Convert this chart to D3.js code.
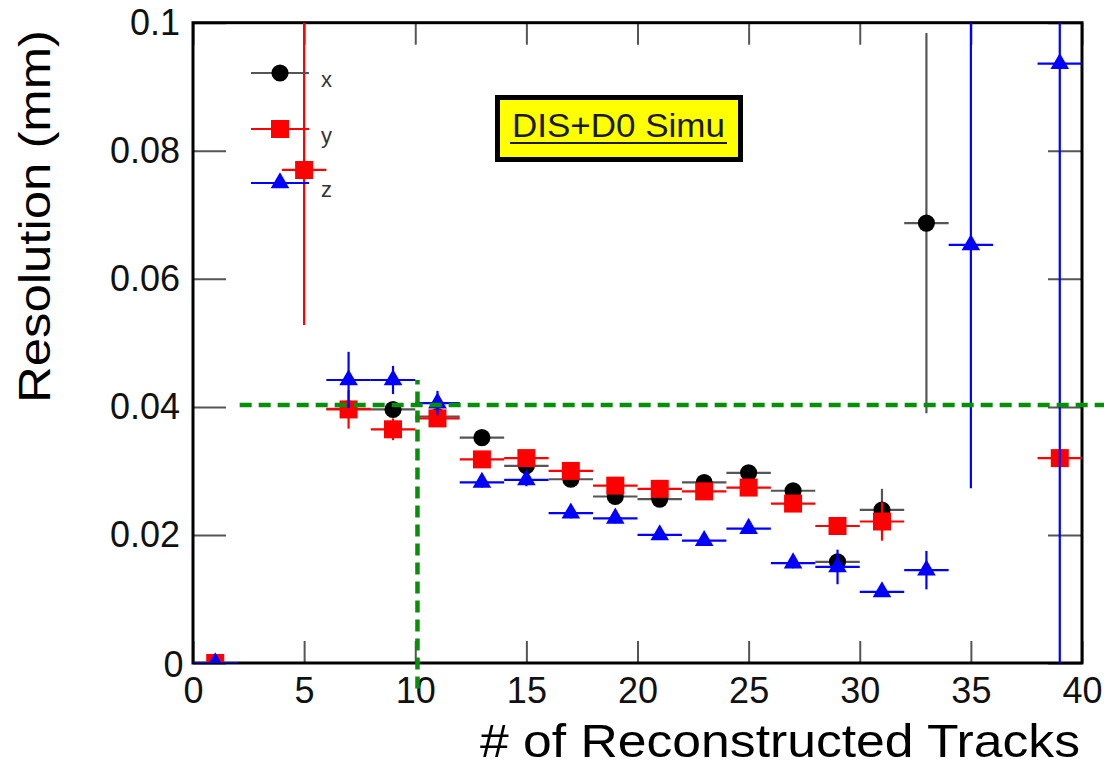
<!DOCTYPE html>
<html>
<head>
<meta charset="utf-8">
<script src="https://cdn.jsdelivr.net/npm/d3@7/dist/d3.min.js"></script>
<style>
  body { margin: 0; background: #fff; }
  svg { display: block; font-family: "Liberation Sans", Arial, Helvetica, sans-serif; }
</style>
</head>
<body>
<div id="chart"></div>
<script>
// values (bin centres, resolution in mm, +/- error)
const xBins = [1, 7, 9, 11, 13, 15, 17, 19, 21, 23, 25, 27, 29, 31, 33]
const xRes  = [0, 0.0397, 0.0396, 0.0385, 0.0352, 0.0308, 0.0287, 0.0260, 0.0256, 0.0282, 0.0297, 0.0269, 0.0158, 0.0239, 0.0687]
const xErr  = [0, 0.001, 0.001, 0.001, 0.0008, 0.0008, 0.0008, 0.0008, 0.0008, 0.0008, 0.0008, 0.001, 0.001, 0.0033, 0.0297]

const yBins = [1, 5, 7, 9, 11, 13, 15, 17, 19, 21, 23, 25, 27, 29, 31, 39]
const yRes  = [0, 0.0770, 0.0396, 0.0365, 0.0382, 0.0318, 0.0320, 0.0300, 0.0277, 0.0272, 0.0268, 0.0274, 0.0249, 0.0214, 0.0221, 0.0320]
const yErr  = [0, 0.0242, 0.003, 0.0017, 0.001, 0.001, 0.0012, 0.001, 0.001, 0.001, 0.001, 0.001, 0.0012, 0.0012, 0.003, 0.001]

const zBins = [1, 7, 9, 11, 13, 15, 17, 19, 21, 23, 25, 27, 29, 31, 33, 35, 39]
const zRes  = [0, 0.0442, 0.0442, 0.0406, 0.0282, 0.0286, 0.0234, 0.0226, 0.0200, 0.0191, 0.0210, 0.0156, 0.0150, 0.0111, 0.0145, 0.0653, 0.0936]
const zErr  = [0, 0.0044, 0.0022, 0.0019, 0.0008, 0.001, 0.0008, 0.0008, 0.0008, 0.0008, 0.0008, 0.0008, 0.0027, 0.0008, 0.003, 0.038, 0.12]

const binHalfWidth = 1

const xTicks = [0, 5, 10, 15, 20, 25, 30, 35, 40]
const yTicks = [0, 0.02, 0.04, 0.06, 0.08, 0.1]

// green cut lines: [x1, y1, x2, y2] in data units
const cutLines = [
    [2.1, 0.0403, 41, 0.0403],
    [10.1, -0.004, 10.1, 0.0442]
]

const legendLabels = ['x', 'y', 'z']
const labelText = 'DIS+D0 Simu'

const width = 1104, height = 782
const frame = {left: 193, right: 1082, top: 22.7, bottom: 663}

const x = d3.scaleLinear().domain([0, 40]).range([frame.left, frame.right])
const y = d3.scaleLinear().domain([0, 0.1]).range([frame.bottom, frame.top])

const svg = d3.select('#chart').append('svg')
    .attr('width', width)
    .attr('height', height)

svg.append('defs').append('clipPath').attr('id', 'plot-clip')
    .append('rect')
    .attr('x', frame.left).attr('y', frame.top)
    .attr('width', frame.right - frame.left).attr('height', frame.bottom - frame.top)

// axes, ticks pointing inwards like ROOT
const axisFont = 36
const bottomAxis = svg.append('g')
    .attr('transform', `translate(0,${frame.bottom})`)
    .call(d3.axisBottom(x).tickValues(xTicks).tickSize(-22).tickPadding(14).tickFormat(d3.format('d')))
const leftAxis = svg.append('g')
    .attr('transform', `translate(${frame.left},0)`)
    .call(d3.axisLeft(y).tickValues(yTicks).tickSize(-33).tickPadding(13).tickFormat(d3.format('~g')))
const topAxis = svg.append('g')
    .attr('transform', `translate(0,${frame.top})`)
    .call(d3.axisTop(x).tickValues(xTicks).tickSize(-22).tickFormat(''))
const rightAxis = svg.append('g')
    .attr('transform', `translate(${frame.right},0)`)
    .call(d3.axisRight(y).tickValues(yTicks).tickSize(-34).tickFormat(''))

;[bottomAxis, leftAxis, topAxis, rightAxis].forEach(a => {
    a.select('.domain').remove()
    a.selectAll('.tick line').attr('stroke', '#555').attr('stroke-width', 2)
    a.selectAll('.tick text')
        .attr('font-size', axisFont)
        .attr('font-family', '"Liberation Sans", Arial, Helvetica, sans-serif')
        .attr('fill', '#111')
})
leftAxis.select('.tick text').attr('dx', '0.1em').attr('dy', '0.38em')

// frame
svg.append('rect')
    .attr('x', frame.left).attr('y', frame.top)
    .attr('width', frame.right - frame.left).attr('height', frame.bottom - frame.top)
    .attr('fill', 'none')
    .attr('stroke', '#000')
    .attr('stroke-width', 3)

const plot = svg.append('g').attr('clip-path', 'url(#plot-clip)')

const series = [
    {bins: xBins, res: xRes, err: xErr, color: '#000', barColor: '#555', shape: d3.symbolCircle, size: 230},
    {bins: yBins, res: yRes, err: yErr, color: '#ff0000', barColor: '#ff0000', shape: d3.symbolSquare, size: 324},
    {bins: zBins, res: zRes, err: zErr, color: '#0000ff', barColor: '#0000ff', shape: d3.symbolTriangle, size: 150}
]

series.forEach(s => {
    const pts = s.bins.map((b, i) => ({b: b, v: s.res[i], e: s.err[i]}))
    const g = plot.append('g')
    g.selectAll('line.h')
        .data(pts)
        .enter()
        .append('line')
        .attr('x1', d => x(d.b - binHalfWidth))
        .attr('x2', d => x(d.b + binHalfWidth))
        .attr('y1', d => y(d.v))
        .attr('y2', d => y(d.v))
        .attr('stroke', s.barColor)
        .attr('stroke-width', 2.2)
    g.selectAll('line.v')
        .data(pts.filter(d => d.e > 0))
        .enter()
        .append('line')
        .attr('x1', d => x(d.b))
        .attr('x2', d => x(d.b))
        .attr('y1', d => y(d.v - d.e))
        .attr('y2', d => y(d.v + d.e))
        .attr('stroke', s.barColor)
        .attr('stroke-width', 2.2)
    g.selectAll('path')
        .data(pts)
        .enter()
        .append('path')
        .attr('d', d3.symbol().type(s.shape).size(s.size))
        .attr('transform', d => `translate(${x(d.b)},${y(d.v)})`)
        .attr('fill', s.color)
})

// cut lines drawn on top, not clipped (they run past the frame)
svg.append('g').selectAll('line')
    .data(cutLines)
    .enter()
    .append('line')
    .attr('x1', d => x(d[0]))
    .attr('y1', d => y(d[1]))
    .attr('x2', d => x(d[2]))
    .attr('y2', d => y(d[3]))
    .attr('stroke', '#078f07')
    .attr('stroke-width', 4.5)
    .attr('stroke-dasharray', '12,7')

// legend
const legend = svg.append('g')
legendLabels.forEach((lab, i) => {
    const s = series[i]
    const ly = [73, 129, 183][i]
    legend.append('line')
        .attr('x1', 251).attr('x2', 309)
        .attr('y1', ly).attr('y2', ly)
        .attr('stroke', s.barColor)
        .attr('stroke-width', 2.2)
    legend.append('path')
        .attr('d', d3.symbol().type(s.shape).size(s.size)())
        .attr('transform', `translate(280,${ly})`)
        .attr('fill', s.color)
    legend.append('text')
        .attr('x', 321).attr('y', ly + 14)
        .attr('font-size', 22)
        .attr('fill', '#333')
        .text(lab)
})

// label box
svg.append('rect')
    .attr('x', 497.5).attr('y', 97.5)
    .attr('width', 243).attr('height', 62)
    .attr('fill', '#ffff00')
    .attr('stroke', '#000')
    .attr('stroke-width', 5)
svg.append('text')
    .attr('x', 512).attr('y', 137)
    .attr('font-size', 33)
    .attr('fill', '#1a1a00')
    .attr('textLength', 213)
    .attr('lengthAdjust', 'spacingAndGlyphs')
    .text(labelText)
svg.append('line')
    .attr('x1', 510).attr('x2', 727)
    .attr('y1', 143).attr('y2', 143)
    .attr('stroke', '#1a1a00')
    .attr('stroke-width', 2.2)

// axis titles
svg.append('text')
    .attr('x', 1080).attr('y', 757)
    .attr('text-anchor', 'end')
    .attr('font-size', 46)
    .attr('fill', '#000')
    .attr('textLength', 600)
    .attr('lengthAdjust', 'spacingAndGlyphs')
    .text('# of Reconstructed Tracks')

svg.append('text')
    .attr('transform', 'translate(50,403) rotate(-90)')
    .attr('font-size', 44)
    .attr('fill', '#000')
    .attr('textLength', 373)
    .attr('lengthAdjust', 'spacingAndGlyphs')
    .text('Resolution (mm)')
</script>
</body>
</html>
